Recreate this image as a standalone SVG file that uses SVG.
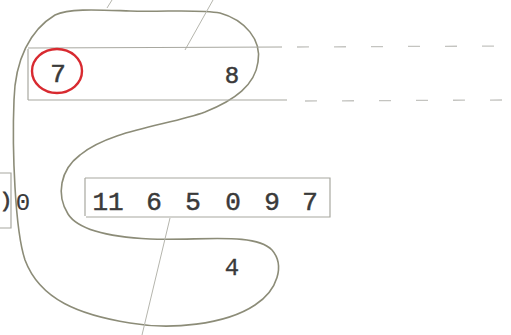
<svg xmlns="http://www.w3.org/2000/svg" width="511" height="335" viewBox="0 0 511 335">
<style>
.t{font-family:"Liberation Mono","DejaVu Sans Mono",monospace;fill:#3a3a3a;stroke:#3a3a3a;stroke-width:0.5;text-anchor:middle}
.thin{stroke:#b5b5ad;stroke-width:1;fill:none}
.box{stroke:#a8a8a0;stroke-width:1.2;fill:none}
.blob{stroke:#8c8c78;stroke-width:1.6;fill:none;stroke-linejoin:round}
.dash{stroke:#c4c4c0;stroke-width:1.3;fill:none;stroke-dasharray:12 25}
</style>
<rect width="511" height="335" fill="#ffffff"/>
<g id="blob">
<path class="blob" d="M 55,15 C 70,8 100,10 130,11 C 165,12 200,9 220,13 C 245,20 262,40 258,62 C 255,85 235,100 205,112 C 170,125 110,130 80,155 C 60,170 56,195 68,214 C 78,230 110,237 150,239 C 200,241 255,232 272,250 C 285,265 278,290 255,305 C 225,325 170,330 130,323 C 80,315 40,300 25,260 C 15,230 12,150 14,100 C 15,60 30,30 55,15 Z"/>
</g>
<g id="connectors">
<line class="thin" x1="213" y1="0" x2="185" y2="50"/>
<line class="thin" x1="112" y1="0" x2="107" y2="8"/>
<line class="thin" x1="170" y1="218" x2="142" y2="335"/>
</g>
<g id="box-top">
<path class="box" d="M 28,49 L 28,100"/>
<line class="box" x1="28" y1="48" x2="282" y2="47"/>
<line class="box" x1="28" y1="100" x2="287" y2="100"/>
<line class="dash" x1="297" y1="47" x2="505" y2="46"/>
<line class="dash" x1="305" y1="101" x2="505" y2="100"/>
<ellipse cx="57" cy="71" rx="25" ry="22" fill="none" stroke="#d82a30" stroke-width="2.4"/>
<text class="t" x="58" y="82" font-size="26">7</text>
<text class="t" x="232" y="83" font-size="24">8</text>
</g>
<g id="box-mid">
<path class="box" d="M 85,178 L 85,216 M 85,178 L 330,178 L 330,217 L 86,217"/>
<text class="t" x="108" y="210" font-size="26">11</text>
<text class="t" x="154" y="210" font-size="26">6</text>
<text class="t" x="193" y="210" font-size="26">5</text>
<text class="t" x="233" y="210" font-size="26">0</text>
<text class="t" x="272" y="210" font-size="26">9</text>
<text class="t" x="310" y="210" font-size="26">7</text>
</g>
<g id="box-left">
<path class="box" d="M 0,173 L 11,173 L 11,228 L 0,228"/>
<text class="t" x="0" y="207" font-size="20" style="text-anchor:start;stroke-width:0.8">)</text>
</g>
<g id="label-0">
<text class="t" x="23" y="210" font-size="24" style="stroke-width:0.2">0</text>
</g>
<g id="label-4">
<text class="t" x="232" y="275" font-size="24" style="stroke-width:0.3">4</text>
</g>
</svg>
